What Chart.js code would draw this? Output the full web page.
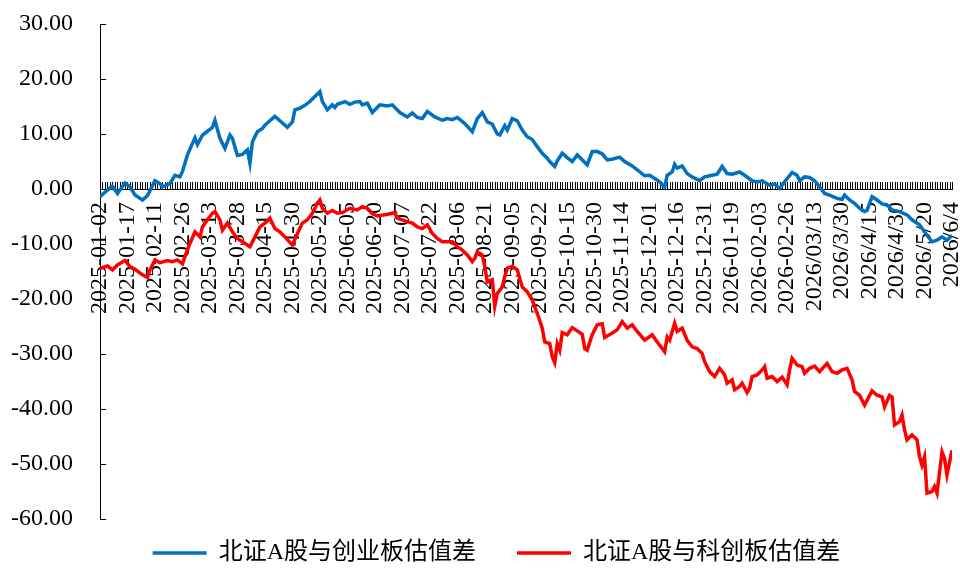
<!DOCTYPE html>
<html>

<head>
    <meta charset="utf-8">
    <script src="https://cdn.jsdelivr.net/npm/chart.js"></script>
    <style>
        body { margin: 0; background: #fff; overflow: hidden; }
        canvas { display: block; }
    </style>
</head>

<body>
    <canvas id="myChart" width="960" height="581"></canvas>

    <script>
        // x axis labels, one every 11 trading days (index 0 .. 341)
        const tickLabels = ['2025-01-02', '2025-01-17', '2025-02-11', '2025-02-26', '2025-03-13', '2025-03-28',
            '2025-04-15', '2025-04-30', '2025-05-20', '2025-06-05', '2025-06-20', '2025-07-07', '2025-07-22',
            '2025-08-06', '2025-08-21', '2025-09-05', '2025-09-22', '2025-10-15', '2025-10-30', '2025-11-14',
            '2025-12-01', '2025-12-16', '2025-12-31', '2026-01-19', '2026-02-03', '2026-02-26', '2026/03/13',
            '2026/3/30', '2026/4/15', '2026/4/30', '2026/5/20', '2026/6/4'];
        const labelStep = 11;
        const lastIndex = 341;

        const seriesNames = ['北证A股与创业板估值差', '北证A股与科创板估值差'];

        // 北证A股与创业板估值差 (trading-day index, value)
        const blueIdx = [0, 2, 4, 5, 7, 10, 12, 14, 17, 19, 22, 24, 25, 28, 30, 32, 33, 35, 38, 39, 41, 43, 45, 46, 48, 50,
            52, 53, 55, 57, 59, 60, 61, 63, 65, 66, 68, 70, 72, 75, 77, 78, 80, 82, 84, 86, 88, 89, 91, 93, 94, 95, 98,
            100, 102, 104, 105, 107, 109, 112, 115, 117, 120, 123, 125, 127, 129, 131, 134, 137, 139, 141, 143, 146,
            149, 151, 153, 155, 157, 159, 160, 162, 163, 165, 167, 169, 171, 173, 175, 177, 179, 180, 182, 183, 185,
            187, 189, 191, 195, 197, 199, 201, 203, 205, 208, 210, 213, 215, 218, 220, 222, 224, 226, 227, 229, 230,
            231, 233, 235, 237, 240, 242, 245, 247, 249, 251, 253, 256, 258, 261, 263, 265, 268, 270, 272, 274, 277,
            279, 280, 282, 284, 286, 288, 290, 292, 295, 297, 298, 300, 302, 304, 306, 307, 309, 311, 313, 315, 317,
            320, 323, 325, 328, 331, 333, 335, 337, 339, 341];
        const blueVal = [-1.4, -0.6, 0.2, 0.5, -0.8, 1.1, 0.4, -1.1, -2.0, -1.2, 1.5, 1.0, 0.4, 1.0, 2.5, 2.2, 3.2, 6.2,
            9.3, 8.1, 9.8, 10.5, 11.2, 12.5, 9.2, 7.4, 9.8, 9.2, 6.1, 6.3, 7.1, 4.7, 8.6, 10.4, 11.0, 11.6, 12.4, 13.2,
            12.4, 11.2, 12.2, 14.4, 14.7, 15.2, 15.9, 16.8, 17.7, 15.9, 14.4, 15.3, 14.8, 15.4, 15.9, 15.4, 15.8, 15.9,
            15.3, 15.6, 13.9, 15.3, 15.1, 15.3, 13.9, 13.1, 13.8, 13.0, 12.8, 14.1, 13.1, 12.5, 12.8, 12.6, 13.0, 11.9,
            10.4, 12.8, 13.9, 12.2, 11.8, 10.0, 9.8, 11.5, 10.7, 12.8, 12.4, 10.7, 9.5, 9.0, 7.7, 6.5, 5.6, 5.0, 4.1,
            5.1, 6.5, 5.7, 5.0, 6.2, 4.4, 6.8, 6.8, 6.4, 5.3, 5.4, 5.8, 5.0, 4.2, 3.5, 2.4, 2.5, 1.9, 1.3, 0.3, 2.5, 3.1,
            4.5, 3.8, 4.2, 2.8, 2.2, 1.5, 2.2, 2.5, 2.7, 4.1, 2.8, 2.7, 3.1, 2.5, 1.5, 1.3, 1.5, 0.7, 0.9, 0.1, 1.3, 3.0,
            2.5, 1.5, 2.2, 2.1, 1.5, 0.4, -0.8, -1.1, -1.7, -1.9, -1.1, -2.0, -2.6, -3.5, -4.1, -3.9, -1.4, -2.0, -2.7,
            -2.9, -3.8, -4.1, -4.7, -5.6, -6.5, -8.4, -9.6, -9.3, -8.7, -9.3, -8.4];

        // 北证A股与科创板估值差 (trading-day index, value)
        const redIdx = [0, 3, 5, 7, 10, 12, 14, 17, 19, 20, 22, 24, 27, 29, 31, 33, 34, 36, 38, 40, 41, 43, 45, 46, 48,
            49, 51, 53, 55, 57, 60, 62, 64, 66, 68, 70, 72, 74, 77, 79, 81, 83, 85, 87, 88, 89, 91, 93, 95, 97, 100,
            103, 105, 107, 109, 111, 114, 116, 118, 119, 122, 125, 127, 129, 131, 133, 135, 137, 139, 141, 143, 145,
            147, 149, 150, 151, 153, 154, 155, 157, 158, 159, 161, 162, 163, 165, 167, 169, 171, 173, 175, 177, 178,
            180, 181, 182, 183, 184, 185, 187, 189, 191, 193, 194, 195, 197, 199, 201, 202, 205, 207, 209, 211, 213,
            215, 218, 221, 223, 225, 226, 227, 228, 230, 231, 233, 235, 237, 239, 241, 242, 244, 246, 248, 250, 251,
            253, 254, 256, 257, 259, 260, 261, 263, 265, 266, 267, 269, 271, 273, 275, 276, 277, 279, 281, 282, 284,
            286, 288, 291, 293, 295, 297, 299, 301, 302, 304, 306, 309, 311, 313, 314, 316, 317, 318, 320, 321, 322,
            323, 325, 327, 328, 329, 330, 331, 333, 334, 335, 337, 338, 339, 341];
        const redVal = [-14.4, -14.0, -14.7, -13.8, -13.0, -14.1, -14.6, -15.6, -16.1, -14.7, -12.9, -13.4, -13.0,
            -13.2, -12.9, -13.6, -12.3, -9.9, -7.8, -8.7, -6.9, -5.6, -4.4, -4.1, -5.6, -7.5, -6.2, -7.8, -9.0, -9.6,
            -10.5, -8.7, -6.9, -6.2, -5.3, -7.2, -7.8, -8.7, -10.2, -8.1, -6.2, -5.6, -4.4, -2.6, -2.0, -3.5, -4.4,
            -3.9, -4.4, -4.3, -3.5, -3.8, -3.2, -3.5, -4.5, -4.9, -4.7, -4.5, -4.3, -5.3, -5.8, -6.2, -6.9, -7.2, -6.5,
            -8.1, -9.0, -9.6, -9.6, -9.6, -10.5, -11.1, -12.0, -13.2, -12.6, -11.4, -12.0, -14.1, -16.9, -16.5, -21.3,
            -19.0, -17.8, -15.9, -14.4, -14.1, -14.7, -17.8, -18.7, -20.2, -22.6, -25.3, -27.8, -28.1, -30.5, -31.6,
            -28.1, -29.3, -26.1, -26.5, -25.2, -25.8, -26.4, -29.0, -29.3, -26.5, -24.7, -24.5, -27.0, -26.2, -25.6,
            -24.1, -25.3, -24.7, -25.9, -27.5, -26.5, -27.8, -29.0, -29.6, -26.9, -27.5, -24.4, -25.9, -25.3, -27.5,
            -28.7, -29.0, -29.9, -31.4, -33.2, -34.1, -32.6, -33.8, -35.3, -34.7, -36.5, -35.9, -35.3, -37.0, -36.2,
            -34.1, -33.8, -32.9, -32.3, -34.4, -34.1, -35.0, -34.2, -35.6, -32.9, -30.8, -32.0, -32.3, -33.5, -32.6,
            -32.2, -33.2, -31.7, -33.2, -33.5, -32.9, -32.6, -34.7, -36.8, -37.5, -39.3, -36.7, -37.5, -37.8, -39.6,
            -37.5, -37.8, -42.9, -42.3, -41.1, -43.8, -45.6, -44.7, -45.6, -48.7, -50.2, -48.7, -55.3, -55.0, -54.1,
            -55.3, -47.8, -49.0, -52.0, -47.5];

        const yMin = -60;
        const yMax = 30;
        const yStep = 10;

        const fontFamily = "'Liberation Serif', 'Times New Roman', 'Noto Sans CJK SC', serif";

        // small tick marks drawn inside the plot, and the legend placed like the original
        const axisTicks = {
            id: 'axisTicks',
            beforeInit(chart) {
                const legend = chart.legend;
                if (!legend) return;
                const fit = legend.fit;
                legend.fit = function () {
                    fit.call(this);
                    this.height = 62;
                };
            },
            afterLayout(chart) {
                chart.legend.top -= 19;
                chart.legend.bottom -= 19;
                chart.legend.left += 41;
            },
            beforeDatasetsDraw(chart) {
                const ctx = chart.ctx;
                const x = chart.scales.x;
                const y = chart.scales.y;
                const y0 = Math.round(y.getPixelForValue(0));
                const left = chart.chartArea.left;
                ctx.save();
                ctx.strokeStyle = '#000';
                ctx.lineWidth = 1;
                ctx.beginPath();
                for (let i = 0; i <= lastIndex; i++) {
                    const px = Math.round(x.getPixelForValue(i)) + 0.5;
                    ctx.moveTo(px, y0 - 7);
                    ctx.lineTo(px, y0);
                }
                y.ticks.forEach(t => {
                    const py = Math.round(y.getPixelForValue(t.value)) + 0.5;
                    ctx.moveTo(left, py);
                    ctx.lineTo(left + 6, py);
                });
                ctx.stroke();
                ctx.restore();
            }
        };

        const ctx = document.getElementById('myChart');

        const chart = new Chart(ctx, {
            type: 'line',
            data: {
                datasets: [{
                    label: seriesNames[0],
                    data: blueIdx.map((v, k) => ({ x: v, y: blueVal[k] })),
                    borderColor: '#0070C0',
                    backgroundColor: '#0070C0',
                    borderWidth: 3.5,
                    pointRadius: 0,
                    tension: 0
                }, {
                    label: seriesNames[1],
                    data: redIdx.map((v, k) => ({ x: v, y: redVal[k] })),
                    borderColor: '#FF0000',
                    backgroundColor: '#FF0000',
                    borderWidth: 3.5,
                    pointRadius: 0,
                    tension: 0
                }]
            },
            options: {
                responsive: false,
                animation: false,
                devicePixelRatio: 1,
                layout: {
                    padding: { left: 0, right: 8, top: 24, bottom: 0 }
                },
                plugins: {
                    tooltip: { enabled: false },
                    legend: {
                        position: 'bottom',
                        labels: {
                            usePointStyle: true,
                            pointStyle: 'line',
                            pointStyleWidth: 54,
                            padding: 41,
                            color: '#000',
                            font: { family: fontFamily, size: 24 }
                        }
                    }
                },
                scales: {
                    x: {
                        type: 'linear',
                        position: { y: 0 },
                        min: 0,
                        max: lastIndex,
                        grid: { display: false, drawTicks: false },
                        border: { display: true, color: '#000', width: 1 },
                        afterFit: s => { s.paddingLeft = 0; s.paddingRight = 0; },
                        ticks: {
                            stepSize: labelStep,
                            autoSkip: false,
                            minRotation: 90,
                            maxRotation: 90,
                            padding: 13,
                            color: '#000',
                            font: { family: fontFamily, size: 24 },
                            callback: v => tickLabels[Math.round(v / labelStep)] ?? ''
                        }
                    },
                    y: {
                        min: yMin,
                        max: yMax,
                        grid: { display: false, drawTicks: false },
                        border: { display: true, color: '#000', width: 1 },
                        afterFit: s => { s.width = 100; s.paddingTop = 0; s.paddingBottom = 0; },
                        ticks: {
                            stepSize: yStep,
                            padding: 27,
                            color: '#000',
                            font: { family: fontFamily, size: 24 },
                            callback: v => v.toFixed(2)
                        }
                    }
                }
            },
            plugins: [axisTicks]
        });
    </script>
</body>

</html>
